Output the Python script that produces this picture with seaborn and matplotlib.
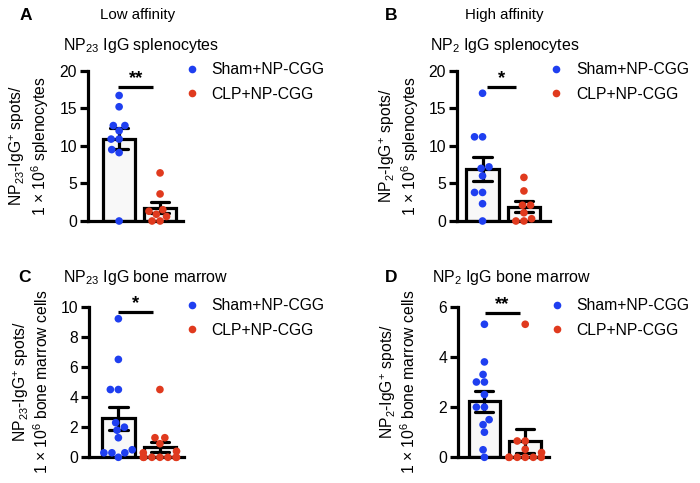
import numpy as np
import pandas as pd
import matplotlib
matplotlib.use("Agg")
import matplotlib.pyplot as plt
import seaborn as sns

# ---------------- data ----------------
groups = ["Sham+NP-CGG", "CLP+NP-CGG"]
colors = ["#1f3ff0", "#e03a1e"]

a_sham = [16.7, 15.2, 12.7, 12.7, 12.0, 10.9, 10.9, 9.5, 9.1, 0.0]
a_clp = [6.4, 3.6, 1.5, 1.3, 0.9, 0.6, 0.0, 0.0]

b_sham = [17.0, 11.2, 11.2, 7.2, 7.0, 6.0, 3.8, 3.8, 2.3, 0.0]
b_clp = [5.8, 4.0, 2.1, 2.1, 1.1, 0.3, 0.0, 0.0]

c_sham = [9.2, 6.5, 4.5, 4.5, 2.3, 2.0, 1.8, 1.3, 0.5, 0.3, 0.3, 0.3, 0.0]
c_clp = [4.5, 1.3, 1.3, 0.9, 0.4, 0.3, 0.0, 0.0, 0.0, 0.0, 0.0, 0.0, 0.0]

d_sham = [5.3, 3.8, 3.3, 3.0, 3.0, 2.5, 2.0, 2.0, 1.5, 1.3, 1.0, 0.3, 0.0]
d_clp = [5.3, 0.65, 0.65, 0.32, 0.19, 0.0, 0.0, 0.0, 0.0, 0.0, 0.0]

titles = ["NP$_{23}$ IgG splenocytes", "NP$_{2}$ IgG splenocytes",
          "NP$_{23}$ IgG bone marrow", "NP$_{2}$ IgG bone marrow"]
ylabels = ["NP$_{23}$-IgG$^{+}$ spots/\n1 × 10$^{6}$ splenocytes",
           "NP$_{2}$-IgG$^{+}$ spots/\n1 × 10$^{6}$ splenocytes",
           "NP$_{23}$-IgG$^{+}$ spots/\n1 × 10$^{6}$ bone marrow cells",
           "NP$_{2}$-IgG$^{+}$ spots/\n1 × 10$^{6}$ bone marrow cells"]
yticks = [[0, 5, 10, 15, 20], [0, 5, 10, 15, 20], [0, 2, 4, 6, 8, 10], [0, 2, 4, 6]]
stars = ["**", "*", "*", "**"]
panel_letters = ["A", "B", "C", "D"]
headers = ["Low affinity", "High affinity"]

# ---------------- style ----------------
sns.set_theme(style="ticks")
plt.rcParams["font.family"] = ["Liberation Sans", "DejaVu Sans"]
plt.rcParams["mathtext.fontset"] = "custom"
plt.rcParams["mathtext.rm"] = "Liberation Sans"
plt.rcParams["mathtext.it"] = "Liberation Sans:italic"
plt.rcParams["mathtext.bf"] = "Liberation Sans:bold"
plt.rcParams["mathtext.default"] = "regular"
for k in ["text.color", "axes.labelcolor", "xtick.color", "ytick.color", "axes.edgecolor"]:
    plt.rcParams[k] = "black"

W, H = 700, 483
fig = plt.figure(figsize=(7.0, 4.83), dpi=100)

def px_axes(left, right, top, bottom):
    return fig.add_axes([left / W, 1 - bottom / H, (right - left) / W, (bottom - top) / H])

# pixel boxes (left, right, top, bottom)
boxes = [(88, 183, 70.7, 221), (457.3, 550, 70.7, 221),
         (89.3, 184, 306.7, 457.3), (458.3, 549.3, 306.7, 457.3)]
xlims = [(-0.76, 1.56), (-0.61, 1.63), (-0.70, 1.58), (-0.64, 1.59)]
sig = [(-0.02, 0.83, 17.8), (0.10, 0.82, 17.8), (-0.01, 0.83, 9.66), (0.02, 0.86, 5.76)]
label_x = [-0.39, -0.39, -0.40, -0.44]
title_pos = [(63, 45.7), (430, 45.7), (63, 277.3), (431.7, 277.3)]
letter_pos = [(20, 15), (385, 15), (18, 277.3), (385, 277.3)]
legend_pos = [(183.8, 62), (548.0, 62), (183.8, 298), (548.7, 298)]

datasets = [(a_sham, a_clp), (b_sham, b_clp), (c_sham, c_clp), (d_sham, d_clp)]
LW = 2.3
FS = 11.3

for i, (sham, clp) in enumerate(datasets):
    df = pd.DataFrame({
        "group": [groups[0]] * len(sham) + [groups[1]] * len(clp),
        "value": sham + clp,
    })
    ax = px_axes(*boxes[i])
    sns.barplot(data=df, x="group", y="value", order=groups, errorbar="se",
                color="#f8f8f8", edgecolor="black", linewidth=LW, width=0.78,
                capsize=0.44, err_kws={"color": "black", "linewidth": LW},
                saturation=1, ax=ax)
    sns.swarmplot(data=df, x="group", y="value", order=groups, hue="group",
                  hue_order=groups, palette=colors, size=5.5, linewidth=0,
                  ax=ax, legend=True, zorder=3)
    for coll in ax.collections:
        coll.set_clip_on(False)

    ax.set_xlim(*xlims[i])
    ax.set_ylim(yticks[i][0], yticks[i][-1])
    ax.set_yticks(yticks[i])
    ax.set_xticks([])
    ax.set_xlabel("")
    ax.set_ylabel(ylabels[i], fontsize=FS, linespacing=1.12)
    ax.yaxis.set_label_coords(label_x[i], 0.5)
    for s in ["top", "right"]:
        ax.spines[s].set_visible(False)
    for s in ["left", "bottom"]:
        ax.spines[s].set_linewidth(LW)
        ax.spines[s].set_color("black")
    ax.tick_params(axis="y", length=6, width=LW, labelsize=FS, pad=2, color="black")

    x0, x1, yy = sig[i]
    ax.plot([x0, x1], [yy, yy], color="black", lw=LW, clip_on=False, solid_capstyle="butt")
    ax.text((x0 + x1) / 2, yy, stars[i], ha="center", va="bottom", fontsize=FS + 2,
            fontweight="bold")

    sns.move_legend(ax, loc="upper left",
                    bbox_to_anchor=(legend_pos[i][0] / W, 1 - legend_pos[i][1] / H),
                    bbox_transform=fig.transFigure, frameon=False, title=None,
                    fontsize=FS, handlelength=1.0, handletextpad=0.77,
                    labelspacing=0.62, borderpad=0, borderaxespad=0, markerscale=1.0)

    tx, ty = title_pos[i]
    fig.text(tx / W, 1 - ty / H, titles[i], fontsize=FS + 0.2, ha="left", va="center")
    lx, ly = letter_pos[i]
    fig.text(lx / W, 1 - ly / H, panel_letters[i], fontsize=12.5, fontweight="heavy",
             ha="left", va="center")

fig.text(100 / W, 1 - 15 / H, headers[0], fontsize=10.8, ha="left", va="center")
fig.text(465 / W, 1 - 15 / H, headers[1], fontsize=10.8, ha="left", va="center")

fig.savefig("out.png", dpi=100)
